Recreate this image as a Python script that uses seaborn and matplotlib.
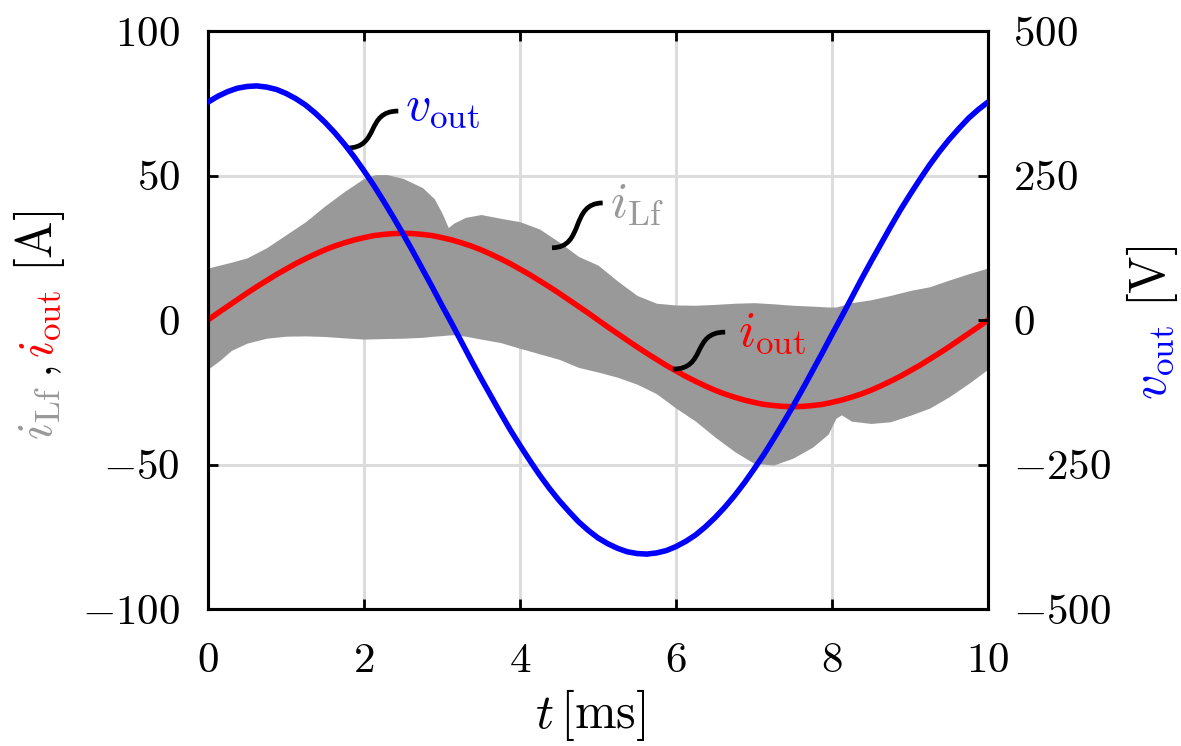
import numpy as np
import matplotlib
matplotlib.use("Agg")
import matplotlib.pyplot as plt
import seaborn as sns
from matplotlib.path import Path
from matplotlib.patches import PathPatch

# ---------------- data ----------------
# sampling grid of the two smooth traces: every 0.125 ms from 0 to 10 ms
t_ms = np.linspace(0.0, 10.0, 81)
i_out_first_half = [0.0, 2.4, 4.7, 7.0, 9.3, 11.5, 13.6, 15.7, 17.6, 19.5, 21.2, 22.8, 24.3,
                    25.6, 26.7, 27.7, 28.5, 29.2, 29.6, 29.9, 30.0, 29.9, 29.6, 29.2, 28.5,
                    27.7, 26.7, 25.6, 24.3, 22.8, 21.2, 19.5, 17.6, 15.7, 13.6, 11.5, 9.3,
                    7.0, 4.7, 2.4, 0.0]
i_out_second_half = [-2.4, -4.7, -7.0, -9.3, -11.5, -13.6, -15.7, -17.6, -19.5, -21.2, -22.8,
                     -24.3, -25.6, -26.7, -27.7, -28.5, -29.2, -29.6, -29.9, -30.0, -29.9,
                     -29.6, -29.2, -28.5, -27.7, -26.7, -25.6, -24.3, -22.8, -21.2, -19.5,
                     -17.6, -15.7, -13.6, -11.5, -9.3, -7.0, -4.7, -2.4, 0.0]
i_out = i_out_first_half + i_out_second_half
v_out_first_half = [377, 387, 395, 401, 404, 405, 403, 399, 392, 383, 372, 358, 342, 324, 304,
                    282, 258, 233, 206, 178, 149, 119, 88, 57, 25, -6, -38, -70, -101, -131,
                    -161, -190, -217, -243, -268, -291, -312, -331, -349, -364, -377]
v_out_second_half = [-387, -395, -401, -404, -405, -403, -399, -392, -383, -372, -358, -342,
                     -324, -304, -282, -258, -233, -206, -178, -149, -119, -88, -57, -25, 6,
                     38, 70, 101, 131, 161, 190, 217, 243, 268, 291, 312, 331, 349, 364, 377]
v_out = v_out_first_half + v_out_second_half

t_band = [0.0, 0.15, 0.3, 0.5, 0.75, 1.0, 1.25, 1.5, 1.75, 2.0, 2.15, 2.3, 2.5, 2.75, 2.9,
          3.0, 3.08, 3.15, 3.3, 3.5, 3.75, 4.0, 4.25, 4.5, 4.75, 5.0, 5.25, 5.5, 5.75, 6.0,
          6.25, 6.5, 6.75, 7.0, 7.25, 7.5, 7.75, 7.95, 8.05, 8.12, 8.25, 8.5, 8.75, 9.0,
          9.25, 9.5, 9.75, 10.0]
iLf_upper = [18, 19, 20, 21.5, 25, 29.5, 34, 39.5, 44.5, 49, 50.3, 50.3, 49, 45.8, 42,
             37, 32, 33.5, 35.5, 36.5, 35.2, 34, 31.5, 27, 22, 19, 13.5, 8.5, 5.8, 5.2,
             5.1, 5.4, 5.8, 6.0, 5.6, 5.1, 4.8, 4.5, 4.5, 5.0, 6.0, 7.0, 8.5, 10.2,
             11.5, 13.8, 16, 18]
iLf_lower = [-17, -14, -10.5, -8, -6.3, -5.6, -5.5, -5.7, -6.2, -6.6, -6.5, -6.4, -6.3, -6.0, -5.6,
             -5.4, -5.2, -5.1, -5.6, -6.6, -7.8, -9.8, -11.7, -13.6, -16.4, -18, -19.8, -22.2, -25.5, -30.5,
             -35, -40.5, -45.5, -49.6, -50.2, -47.8, -44, -39.5, -34, -32.8, -35, -35.8, -35.2, -33,
             -30.5, -26.6, -22, -17]

xticks = [0, 2, 4, 6, 8, 10]
yticks_i = [-100, -50, 0, 50, 100]
yticks_v = [-500, -250, 0, 250, 500]

# ---------------- style ----------------
sns.set_theme(style="white")
plt.rcParams.update({
    "font.family": "serif",
    "font.serif": ["cmr10", "DejaVu Serif"],
    "mathtext.fontset": "cm",
    "axes.formatter.use_mathtext": True,
    "axes.unicode_minus": True,
    "text.color": "black",
    "axes.labelcolor": "black",
    "xtick.color": "black",
    "ytick.color": "black",
})

W, H = 1181, 746
fig = plt.figure(figsize=(W / 100, H / 100), dpi=100)
ax = fig.add_axes([208 / W, 1 - 609 / H, (988 - 208) / W, (609 - 31) / H])
ax2 = ax.twinx()

GRAY = "#999999"
RED = "#ff0000"
BLUE = "#0000ff"
FS_TICK = 31
FS_LAB = 36

ax.fill_between(t_band, iLf_upper, iLf_lower, color=GRAY, lw=0, zorder=2)
sns.lineplot(x=t_ms, y=i_out, ax=ax, color=RED, lw=4, zorder=3)
sns.lineplot(x=t_ms, y=v_out, ax=ax2, color=BLUE, lw=4, zorder=3)

ax.set_xlim(0, 10)
ax.set_ylim(-100, 100)
ax2.set_ylim(-500, 500)
ax.set_xticks(xticks)
ax.set_yticks(yticks_i)
ax2.set_yticks(yticks_v)
ax.set_ylabel("")
ax2.set_ylabel("")
ax.set_xlabel("")

ax.grid(True, color="#dcdcdc", lw=2.2, zorder=0)
ax.set_axisbelow(True)
ax2.grid(False)

for a in (ax, ax2):
    for s in a.spines.values():
        s.set_color("black")
        s.set_linewidth(2.2)
ax.tick_params(axis="both", direction="in", length=7, width=2, colors="black",
               labelsize=FS_TICK, pad=20, top=True, bottom=True, left=True, right=False)
ax.tick_params(axis="x", pad=24)
ax2.tick_params(axis="y", direction="in", length=7, width=2, colors="black",
                labelsize=FS_TICK, pad=18, right=True, left=False)

# ---------------- S-shaped label connectors ----------------
def s_curve(a, x0, y0, x1, y1, k=0.65):
    dx = x1 - x0
    verts = [(x0, y0), (x0 + k * dx, y0), (x1 - k * dx, y1), (x1, y1)]
    codes = [Path.MOVETO, Path.CURVE4, Path.CURVE4, Path.CURVE4]
    a.add_patch(PathPatch(Path(verts, codes), facecolor="none", edgecolor="black",
                          lw=3.4, capstyle="butt", zorder=6))

s_curve(ax, 1.78, 59.5, 2.44, 72.3)
ax.text(2.53, 69.5, r"$v_{\mathrm{out}}$", color=BLUE, fontsize=FS_LAB, va="baseline", ha="left", zorder=7)
s_curve(ax, 4.41, 25.0, 5.06, 40.5)
ax.text(5.16, 35.3, r"$i_{\mathrm{Lf}}$", color=GRAY, fontsize=FS_LAB, va="baseline", ha="left", zorder=7)
s_curve(ax, 5.96, -17.0, 6.63, -4.2)
ax.text(6.79, -8.9, r"$i_{\mathrm{out}}$", color=RED, fontsize=FS_LAB, va="baseline", ha="left", zorder=7)

# ---------------- axis labels (multi-coloured, rotated) ----------------
renderer = fig.canvas.get_renderer()

def chain_vertical(x_px, y_start_px, pieces, fs):
    y = y_start_px  # pixels from top
    for txt, col, gap in pieces:
        y -= gap
        tt = fig.text(x_px / W, 1 - y / H, txt, color=col, fontsize=fs, rotation=90,
                      rotation_mode="anchor", ha="left", va="baseline")
        bb = tt.get_window_extent(renderer)
        y -= bb.height

chain_vertical(52, 440, [(r"$i_{\mathrm{Lf}}$", GRAY, 0),
                         (r"$,$", "black", 8),
                         (r"$i_{\mathrm{out}}$", RED, 8),
                         (r"$[\mathrm{A}]$", "black", 18)], FS_LAB)
chain_vertical(1165, 400, [(r"$v_{\mathrm{out}}$", BLUE, 0),
                           (r"$[\mathrm{V}]$", "black", 18)], FS_LAB)

fig.text(590 / W, 1 - 728 / H, r"$t\,[\mathrm{ms}]$", color="black", fontsize=FS_LAB,
         ha="center", va="baseline")

fig.savefig("out.png", dpi=100)
